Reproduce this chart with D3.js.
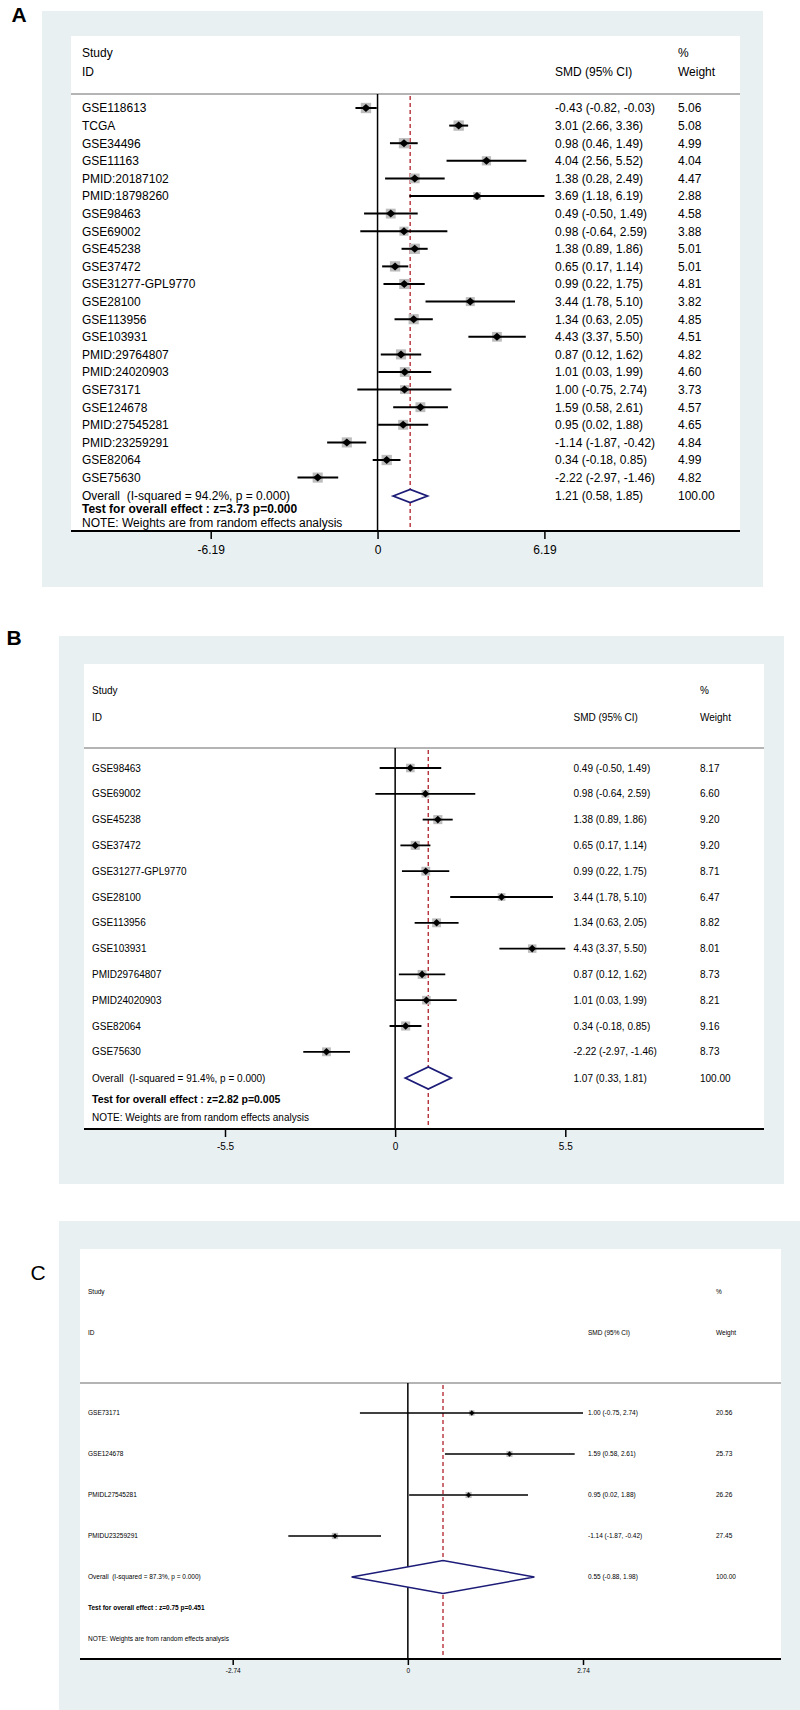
<!DOCTYPE html>
<html lang="en">
<head>
<meta charset="UTF-8">
<title>Forest plots</title>
<script src="https://d3js.org/d3.v7.min.js"></script>
<style>
  body { margin: 0; background: #fff; }
  svg { display: block; }
  text { font-family: "Liberation Sans", Arial, sans-serif; fill: #000; white-space: pre; }
</style>
</head>
<body>
<svg width="800" height="1710"></svg>
<script>
// ---- panel A data ----
const studiesA = ["GSE118613", "TCGA", "GSE34496", "GSE11163", "PMID:20187102", "PMID:18798260",
  "GSE98463", "GSE69002", "GSE45238", "GSE37472", "GSE31277-GPL9770", "GSE28100", "GSE113956",
  "GSE103931", "PMID:29764807", "PMID:24020903", "GSE73171", "GSE124678", "PMID:27545281",
  "PMID:23259291", "GSE82064", "GSE75630"];
const smdA  = [-0.43, 3.01, 0.98, 4.04, 1.38, 3.69, 0.49, 0.98, 1.38, 0.65, 0.99, 3.44, 1.34, 4.43, 0.87, 1.01, 1.00, 1.59, 0.95, -1.14, 0.34, -2.22];
const lowA  = [-0.82, 2.66, 0.46, 2.56, 0.28, 1.18, -0.50, -0.64, 0.89, 0.17, 0.22, 1.78, 0.63, 3.37, 0.12, 0.03, -0.75, 0.58, 0.02, -1.87, -0.18, -2.97];
const highA = [-0.03, 3.36, 1.49, 5.52, 2.49, 6.19, 1.49, 2.59, 1.86, 1.14, 1.75, 5.10, 2.05, 5.50, 1.62, 1.99, 2.74, 2.61, 1.88, -0.42, 0.85, -1.46];
const weightA = [5.06, 5.08, 4.99, 4.04, 4.47, 2.88, 4.58, 3.88, 5.01, 5.01, 4.81, 3.82, 4.85, 4.51, 4.82, 4.60, 3.73, 4.57, 4.65, 4.84, 4.99, 4.82];
const overallA = [1.21, 0.58, 1.85];
const isqA = "94.2%";
const testA = "z=3.73 p=0.000";
const ticksA = [-6.19, 0, 6.19];

// ---- panel B data ----
const studiesB = ["GSE98463", "GSE69002", "GSE45238", "GSE37472", "GSE31277-GPL9770", "GSE28100",
  "GSE113956", "GSE103931", "PMID29764807", "PMID24020903", "GSE82064", "GSE75630"];
const smdB  = [0.49, 0.98, 1.38, 0.65, 0.99, 3.44, 1.34, 4.43, 0.87, 1.01, 0.34, -2.22];
const lowB  = [-0.50, -0.64, 0.89, 0.17, 0.22, 1.78, 0.63, 3.37, 0.12, 0.03, -0.18, -2.97];
const highB = [1.49, 2.59, 1.86, 1.14, 1.75, 5.10, 2.05, 5.50, 1.62, 1.99, 0.85, -1.46];
const weightB = [8.17, 6.60, 9.20, 9.20, 8.71, 6.47, 8.82, 8.01, 8.73, 8.21, 9.16, 8.73];
const overallB = [1.07, 0.33, 1.81];
const isqB = "91.4%";
const testB = "z=2.82 p=0.005";
const ticksB = [-5.5, 0, 5.5];

// ---- panel C data ----
const studiesC = ["GSE73171", "GSE124678", "PMIDL27545281", "PMIDU23259291"];
const smdC  = [1.00, 1.59, 0.95, -1.14];
const lowC  = [-0.75, 0.58, 0.02, -1.87];
const highC = [2.74, 2.61, 1.88, -0.42];
const weightC = [20.56, 25.73, 26.26, 27.45];
const overallC = [0.55, -0.88, 1.98];
const isqC = "87.3%";
const testC = "z=0.75 p=0.451";
const ticksC = [-2.74, 0, 2.74];

const svg = d3.select("svg");
// plain hyphen minus, like the original output (d3.format would give U+2212)
const f2 = v => v.toFixed(2);
const fmtCI = (e, l, h) => f2(e) + " (" + f2(l) + ", " + f2(h) + ")";

function drawPanel(p, d) {
  const g = svg.append("g");

  // backgrounds
  g.append("rect").attr("x", p.bg[0]).attr("y", p.bg[1])
    .attr("width", p.bg[2] - p.bg[0]).attr("height", p.bg[3] - p.bg[1]).attr("fill", "#e8f0f2");
  g.append("rect").attr("x", p.plot[0]).attr("y", p.plot[1])
    .attr("width", p.plot[2] - p.plot[0]).attr("height", p.plot[3] - p.plot[1]).attr("fill", "#fff");

  g.append("text").attr("x", p.letter[0]).attr("y", p.letter[1])
    .attr("text-anchor", "middle").attr("font-size", 21)
    .attr("font-weight", p.letterBold ? "bold" : "normal").text(p.name);

  const x = d3.scaleLinear().domain([d.ticks[0], d.ticks[2]]).range(p.tickRange);
  const y = d3.scalePoint().domain(d3.range(d.studies.length)).range(p.rows);
  const fs = p.fs;
  const base = yc => yc + fs * 0.36;

  const txt = (tx, ty, s, bold) => g.append("text").attr("x", tx).attr("y", base(ty))
    .attr("font-size", bold ? p.fsBold : fs).attr("font-weight", bold ? "bold" : "normal").text(s);

  // header
  txt(p.colX[0], p.head[0], "Study");
  txt(p.colX[0], p.head[1], "ID");
  txt(p.colX[1], p.head[1], "SMD (95% CI)");
  txt(p.colX[2], p.head[0], "%");
  txt(p.colX[2], p.head[1], "Weight");
  g.append("line").attr("x1", p.plot[0]).attr("x2", p.plot[2])
    .attr("y1", p.sep).attr("y2", p.sep).attr("stroke", "#b4b4b4").attr("stroke-width", 2);

  // reference lines
  g.append("line").attr("x1", x(0)).attr("x2", x(0))
    .attr("y1", p.sep).attr("y2", p.plot[3]).attr("stroke", "#000").attr("stroke-width", 1.5);
  g.append("line").attr("x1", x(d.overall[0])).attr("x2", x(d.overall[0]))
    .attr("y1", p.sep + 2).attr("y2", p.plot[3]).attr("stroke", "#b0202a")
    .attr("stroke-width", 1.3).attr("stroke-dasharray", "4,3");

  // study rows
  const rows = g.selectAll(".row").data(d.studies.map((s, i) => i)).join("g").attr("class", "row");
  rows.append("text").attr("x", p.colX[0]).attr("y", i => base(y(i)))
    .attr("font-size", fs).text(i => d.studies[i]);
  rows.append("text").attr("x", p.colX[1]).attr("y", i => base(y(i)))
    .attr("font-size", fs).text(i => fmtCI(d.smd[i], d.low[i], d.high[i]));
  rows.append("text").attr("x", p.colX[2]).attr("y", i => base(y(i)))
    .attr("font-size", fs).text(i => f2(d.weight[i]));
  rows.append("rect")
    .attr("x", i => x(d.smd[i]) - p.boxK * Math.sqrt(d.weight[i]) / 2)
    .attr("y", i => y(i) - p.boxK * Math.sqrt(d.weight[i]) / 2)
    .attr("width", i => p.boxK * Math.sqrt(d.weight[i]))
    .attr("height", i => p.boxK * Math.sqrt(d.weight[i]))
    .attr("fill", "#bdbdbd");
  rows.append("line").attr("x1", i => x(d.low[i])).attr("x2", i => x(d.high[i]))
    .attr("y1", i => y(i)).attr("y2", i => y(i)).attr("stroke", "#000").attr("stroke-width", p.ciW);
  rows.append("path")
    .attr("d", i => {
      const cx = x(d.smd[i]), cy = y(i), a = p.pt[0], b = p.pt[1];
      return `M${cx - a},${cy}L${cx},${cy - b}L${cx + a},${cy}L${cx},${cy + b}Z`;
    })
    .attr("fill", "#000");

  // overall
  const oy = p.overallY, o = d.overall;
  g.append("path")
    .attr("d", `M${x(o[1])},${oy}L${x(o[0])},${oy - p.dh}L${x(o[2])},${oy}L${x(o[0])},${oy + p.dh}Z`)
    .attr("fill", "#fff").attr("stroke", "#1c1c78").attr("stroke-width", p.dw);
  txt(p.colX[0], oy, "Overall  (I-squared = " + d.isq + ", p = 0.000)");
  txt(p.colX[1], oy, fmtCI(o[0], o[1], o[2]));
  txt(p.colX[2], oy, "100.00");
  txt(p.colX[0], p.testY, "Test for overall effect : " + d.test, true);
  txt(p.colX[0], p.noteY, "NOTE: Weights are from random effects analysis");

  // x axis
  const ax = g.append("g").attr("transform", `translate(0,${p.plot[3]})`)
    .call(d3.axisBottom(x).tickValues(d.ticks).tickFormat(v => v === 0 ? "0" : String(v))
      .tickSize(p.tick).tickSizeOuter(0).tickPadding(p.tickPad));
  ax.select(".domain").remove();
  ax.selectAll(".tick line").attr("stroke", "#000").attr("stroke-width", 1.5);
  ax.selectAll(".tick text").attr("font-size", fs)
    .attr("font-family", "'Liberation Sans', Arial, sans-serif").attr("fill", "#000");
  g.append("line").attr("x1", p.plot[0]).attr("x2", p.plot[2])
    .attr("y1", p.plot[3]).attr("y2", p.plot[3]).attr("stroke", "#000").attr("stroke-width", 2);
}

drawPanel({
  name: "A", letter: [19, 22], letterBold: true,
  bg: [42, 11, 763, 587], plot: [71, 36, 740, 531],
  head: [53, 72], sep: 94, rows: [108, 477.6], overallY: 496, testY: 509, noteY: 523,
  colX: [82, 555, 678], fs: 12, fsBold: 12,
  tickRange: [210.7, 544.4], tick: 8, tickPad: 6,
  boxK: 4.6, pt: [4.5, 4], ciW: 2, dh: 6.5, dw: 1.8
}, { studies: studiesA, smd: smdA, low: lowA, high: highA, weight: weightA,
     overall: overallA, isq: isqA, test: testA, ticks: ticksA });

drawPanel({
  name: "B", letter: [14, 645], letterBold: true,
  bg: [59, 636, 784, 1184], plot: [84, 664, 764, 1129],
  head: [690, 717], sep: 748, rows: [768, 1051.8], overallY: 1078, testY: 1099, noteY: 1117,
  colX: [92, 573.5, 700], fs: 10, fsBold: 10.5,
  tickRange: [225, 565.3], tick: 8, tickPad: 6,
  boxK: 3, pt: [3.8, 3.8], ciW: 1.8, dh: 11, dw: 1.8
}, { studies: studiesB, smd: smdB, low: lowB, high: highB, weight: weightB,
     overall: overallB, isq: isqB, test: testB, ticks: ticksB });

drawPanel({
  name: "C", letter: [38, 1280], letterBold: false,
  bg: [59, 1221, 800, 1712], plot: [80, 1249, 781, 1659],
  head: [1292, 1333], sep: 1383, rows: [1413, 1536], overallY: 1577, testY: 1608, noteY: 1639,
  colX: [88, 588, 716], fs: 6.5, fsBold: 6.5,
  tickRange: [232.7, 583], tick: 6, tickPad: 3,
  boxK: 1.2, pt: [2.5, 2.8], ciW: 1.5, dh: 16.5, dw: 1.5
}, { studies: studiesC, smd: smdC, low: lowC, high: highC, weight: weightC,
     overall: overallC, isq: isqC, test: testC, ticks: ticksC });
</script>
</body>
</html>
